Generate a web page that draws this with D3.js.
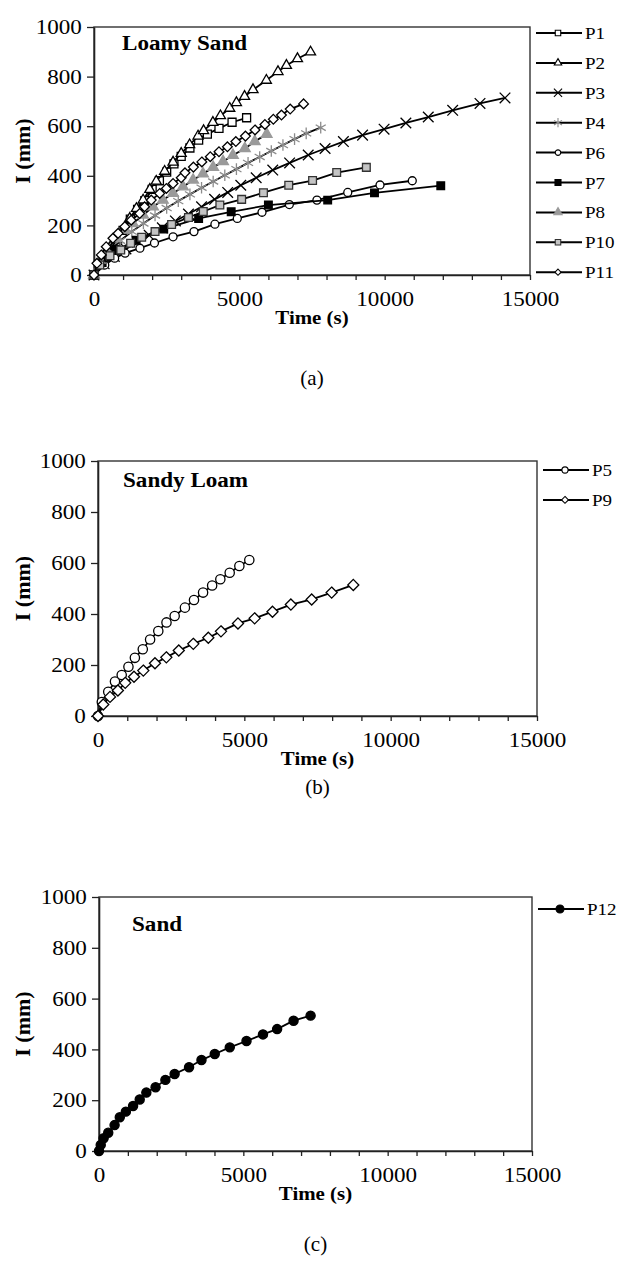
<!DOCTYPE html>
<html>
<head>
<meta charset="utf-8">
<script src="https://cdn.jsdelivr.net/npm/d3@7"></script>
<style>
  body { margin: 0; background: #fff; }
  svg text { font-family: "Liberation Serif", "Times New Roman", serif; fill: #000; }
</style>
</head>
<body>
<svg id="fig" width="619" height="1287"></svg>
<script>
// ---- data: [time (s), I (mm)] ----
var P1 = [[0,0],[250,45],[500,88],[750,135],[1000,180],[1250,225],[1500,265],[1750,300],[2000,345],[2250,380],[2500,415],[2750,448],[3000,478],[3300,512],[3600,544],[3900,568],[4300,591],[4750,616],[5250,634]];
var P2 = [[0,0],[250,47],[480,87],[770,141],[1000,181],[1230,228],[1460,268],[1690,302],[1920,345],[2140,378],[2430,418],[2720,455],[3000,490],[3290,525],[3580,560],[3770,582],[4090,615],[4350,642],[4670,672],[4900,695],[5180,720],[5470,747],[5930,785],[6330,820],[6620,845],[7000,872],[7450,899]];
var P3 = [[0,0],[350,45],[700,75],[1100,105],[1500,132],[1900,160],[2350,190],[2800,218],[3250,246],[3700,275],[4150,305],[4600,333],[5050,362],[5580,392],[6150,423],[6730,452],[7370,484],[7950,510],[8580,538],[9240,564],[9980,588],[10730,613],[11500,637],[12340,664],[13280,692],[14140,714]];
var P4 = [[0,0],[250,50],[500,90],[900,138],[1300,175],[1700,208],[2100,240],[2500,270],[2900,298],[3300,325],[3700,352],[4100,377],[4500,402],[4900,427],[5300,452],[5700,476],[6100,500],[6500,524],[6900,548],[7300,571],[7800,594]];
var P6 = [[0,0],[370,40],[710,68],[1070,88],[1580,108],[2080,129],[2720,154],[3440,175],[4160,205],[4930,228],[5780,253],[6720,284],[7670,302],[8730,333],[9840,363],[10950,380]];
var P7 = [[0,0],[280,50],[750,100],[1450,140],[2400,185],[3600,228],[4720,255],[6000,282],[8040,302],[9650,331],[11930,360]];
var P8 = [[0,0],[200,60],[420,100],[770,148],[1060,181],[1340,208],[1690,242],[2030,275],[2370,302],[2720,330],[3060,356],[3410,383],[3750,408],[4100,434],[4440,458],[4780,483],[5190,510],[5530,538],[5940,568]];
var P10 = [[0,0],[200,40],[550,78],[920,101],[1260,128],[1640,152],[2100,175],[2670,204],[3250,232],[3760,256],[4330,282],[5080,305],[5830,332],[6700,362],[7520,381],[8350,413],[9370,434]];
var P11 = [[0,0],[100,47],[250,81],[420,114],[650,148],[830,168],[1060,195],[1280,221],[1570,248],[1740,275],[1970,302],[2260,329],[2490,349],[2720,369],[3000,392],[3130,412],[3420,435],[3710,456],[4000,477],[4300,497],[4590,517],[4880,538],[5210,560],[5540,585],[5880,607],[6170,628],[6450,645],[6750,669],[7210,690]];

var P5 = [[0,0],[130,55],[350,95],[580,135],[810,161],[1040,193],[1260,228],[1530,262],[1780,300],[2060,333],[2340,367],[2620,392],[2970,425],[3280,455],[3590,484],[3900,512],[4180,536],[4500,562],[4830,588],[5170,612]];
var P9 = [[0,0],[180,45],[410,75],[680,100],[930,130],[1230,154],[1548,178],[1947,207],[2335,230],[2760,257],[3256,283],[3769,307],[4202,332],[4783,363],[5352,383],[5962,409],[6590,437],[7301,457],[7984,484],[8723,514]];

var P12 = [[0,0],[60,24],[160,50],[320,72],[540,102],[720,133],[930,155],[1180,177],[1410,203],[1640,230],[1960,251],[2300,280],[2620,303],[3120,330],[3550,358],[4010,382],[4530,408],[5110,433],[5680,459],[6170,480],[6740,513],[7330,533]];

var xTickValues = d3.range(0, 15001, 1000);
var xLabelValues = [0, 5000, 10000, 15000];
var yTickValues = [0, 200, 400, 600, 800, 1000];

// ---- marker styles ----
var styles = {
  P1:  {shape: d3.symbolSquare,   fill: "#fff",  stroke: "#000", size: 64, lsize: 30},
  P2:  {shape: d3.symbolTriangle, fill: "#fff",  stroke: "#000", size: 44, lsize: 24},
  P3:  {shape: d3.symbolTimes,    fill: "none",  stroke: "#000", size: 75, lsize: 45},
  P4:  {shape: d3.symbolAsterisk, fill: "none",  stroke: "#8c8c8c", size: 95, lsize: 60},
  P6:  {shape: d3.symbolCircle,   fill: "#fff",  stroke: "#000", size: 50, lsize: 24},
  P7:  {shape: d3.symbolSquare,   fill: "#000",  stroke: "#000", size: 58, lsize: 36},
  P8:  {shape: d3.symbolTriangle, fill: "#9a9a9a", stroke: "#9a9a9a", size: 50, lsize: 30},
  P10: {shape: d3.symbolSquare,   fill: "#c4c4c4", stroke: "#333", size: 60, lsize: 30},
  P11: {shape: d3.symbolDiamond2, fill: "#fff",  stroke: "#000", size: 60, lsize: 24},
  P5:  {shape: d3.symbolCircle,   fill: "#fff",  stroke: "#000", size: 68, lsize: 30},
  P9:  {shape: d3.symbolDiamond2, fill: "#fff",  stroke: "#000", size: 78, lsize: 30},
  P12: {shape: d3.symbolCircle,   fill: "#000",  stroke: "#000", size: 66, lsize: 50}
};

var panels = [
  {l: 94, t: 27, r: 530, b: 275, title: "Loamy Sand", tx: 122, ty: 50, caption: "(a)", cy: 385, legTop: 33,
   series: [["P1", P1], ["P2", P2], ["P3", P3], ["P4", P4], ["P6", P6], ["P7", P7], ["P8", P8], ["P10", P10], ["P11", P11]]},
  {l: 98, t: 461, r: 537, b: 716, title: "Sandy Loam", tx: 123, ty: 487, caption: "(b)", cy: 794, legTop: 470,
   series: [["P5", P5], ["P9", P9]]},
  {l: 99, t: 897, r: 532, b: 1151, title: "Sand", tx: 132, ty: 931, caption: "(c)", cy: 1251, legTop: 909,
   series: [["P12", P12]]}
];

var svg = d3.select("#fig");

function drawPanel(p) {
  var g = svg.append("g");
  var x = d3.scaleLinear().domain([0, 15000]).range([p.l, p.r]);
  var y = d3.scaleLinear().domain([0, 1000]).range([p.b, p.t]);

  g.append("rect")
    .attr("x", p.l).attr("y", p.t)
    .attr("width", p.r - p.l).attr("height", p.b - p.t)
    .attr("fill", "none").attr("stroke", "#333").attr("stroke-width", 1.4);

  var xAxis = g.append("g")
    .attr("transform", "translate(0," + p.b + ")")
    .call(d3.axisBottom(x).tickValues(xTickValues)
      .tickFormat(function (d) { return xLabelValues.indexOf(d) >= 0 ? d : ""; })
      .tickSize(5).tickSizeOuter(0).tickPadding(11));
  var yAxis = g.append("g")
    .attr("transform", "translate(" + p.l + ",0)")
    .call(d3.axisLeft(y).tickValues(yTickValues).tickFormat(d3.format("d"))
      .tickSize(7).tickSizeOuter(0).tickPadding(4));

  [xAxis, yAxis].forEach(function (ax) {
    ax.select(".domain").attr("stroke", "#222").attr("stroke-width", 1.6);
    ax.selectAll(".tick line").attr("stroke", "#222").attr("stroke-width", 1.3);
    ax.selectAll(".tick text")
      .attr("font-size", "21px")
      .attr("fill", "#000")
      .style("font-family", '"Liberation Serif", "Times New Roman", serif')
      .attr("transform", "scale(1.1,1)");
  });

  var line = d3.line().x(function (d) { return x(d[0]); }).y(function (d) { return y(d[1]); });

  p.series.forEach(function (s) {
    var st = styles[s[0]];
    g.append("path")
      .datum(s[1])
      .attr("d", line)
      .attr("fill", "none")
      .attr("stroke", "#000")
      .attr("stroke-width", 1.8);
    g.append("g").selectAll("path")
      .data(s[1])
      .enter().append("path")
      .attr("transform", function (d) { return "translate(" + x(d[0]) + "," + y(d[1]) + ")"; })
      .attr("d", d3.symbol().type(st.shape).size(st.size))
      .attr("fill", st.fill)
      .attr("stroke", st.stroke)
      .attr("stroke-width", 1.3);
  });

  // legend
  var leg = g.append("g");
  p.series.forEach(function (s, i) {
    var st = styles[s[0]];
    var ly = p.legTop + i * 29.9;
    leg.append("line")
      .attr("x1", p.r + 6).attr("x2", p.r + 52)
      .attr("y1", ly).attr("y2", ly)
      .attr("stroke", "#000").attr("stroke-width", 2);
    leg.append("path")
      .attr("transform", "translate(" + (p.r + 28) + "," + ly + ")")
      .attr("d", d3.symbol().type(st.shape).size(st.lsize))
      .attr("fill", st.fill)
      .attr("stroke", st.stroke)
      .attr("stroke-width", 1.1);
    leg.append("text")
      .attr("transform", "translate(" + (p.r + 55) + "," + (ly + 6) + ") scale(1.12,1)")
      .attr("font-size", "17px")
      .text(s[0]);
  });

  // titles and labels
  g.append("text")
    .attr("transform", "translate(" + p.tx + "," + p.ty + ") scale(1.1,1)")
    .attr("font-size", "21px")
    .attr("font-weight", "bold")
    .text(p.title);

  g.append("text")
    .attr("transform", "translate(" + ((p.l + p.r) / 2) + "," + (p.b + 49) + ") scale(1.1,1)")
    .attr("text-anchor", "middle")
    .attr("font-size", "19px")
    .attr("font-weight", "bold")
    .text("Time (s)");

  g.append("text")
    .attr("transform", "translate(30," + ((p.t + p.b) / 2) + ") rotate(-90)")
    .attr("text-anchor", "middle")
    .attr("font-size", "22px")
    .attr("font-weight", "bold")
    .text("I (mm)");

  g.append("text")
    .attr("x", (p.l + p.r) / 2).attr("y", p.cy)
    .attr("text-anchor", "middle")
    .attr("font-size", "21px")
    .text(p.caption);
}

panels.forEach(drawPanel);
</script>
</body>
</html>
